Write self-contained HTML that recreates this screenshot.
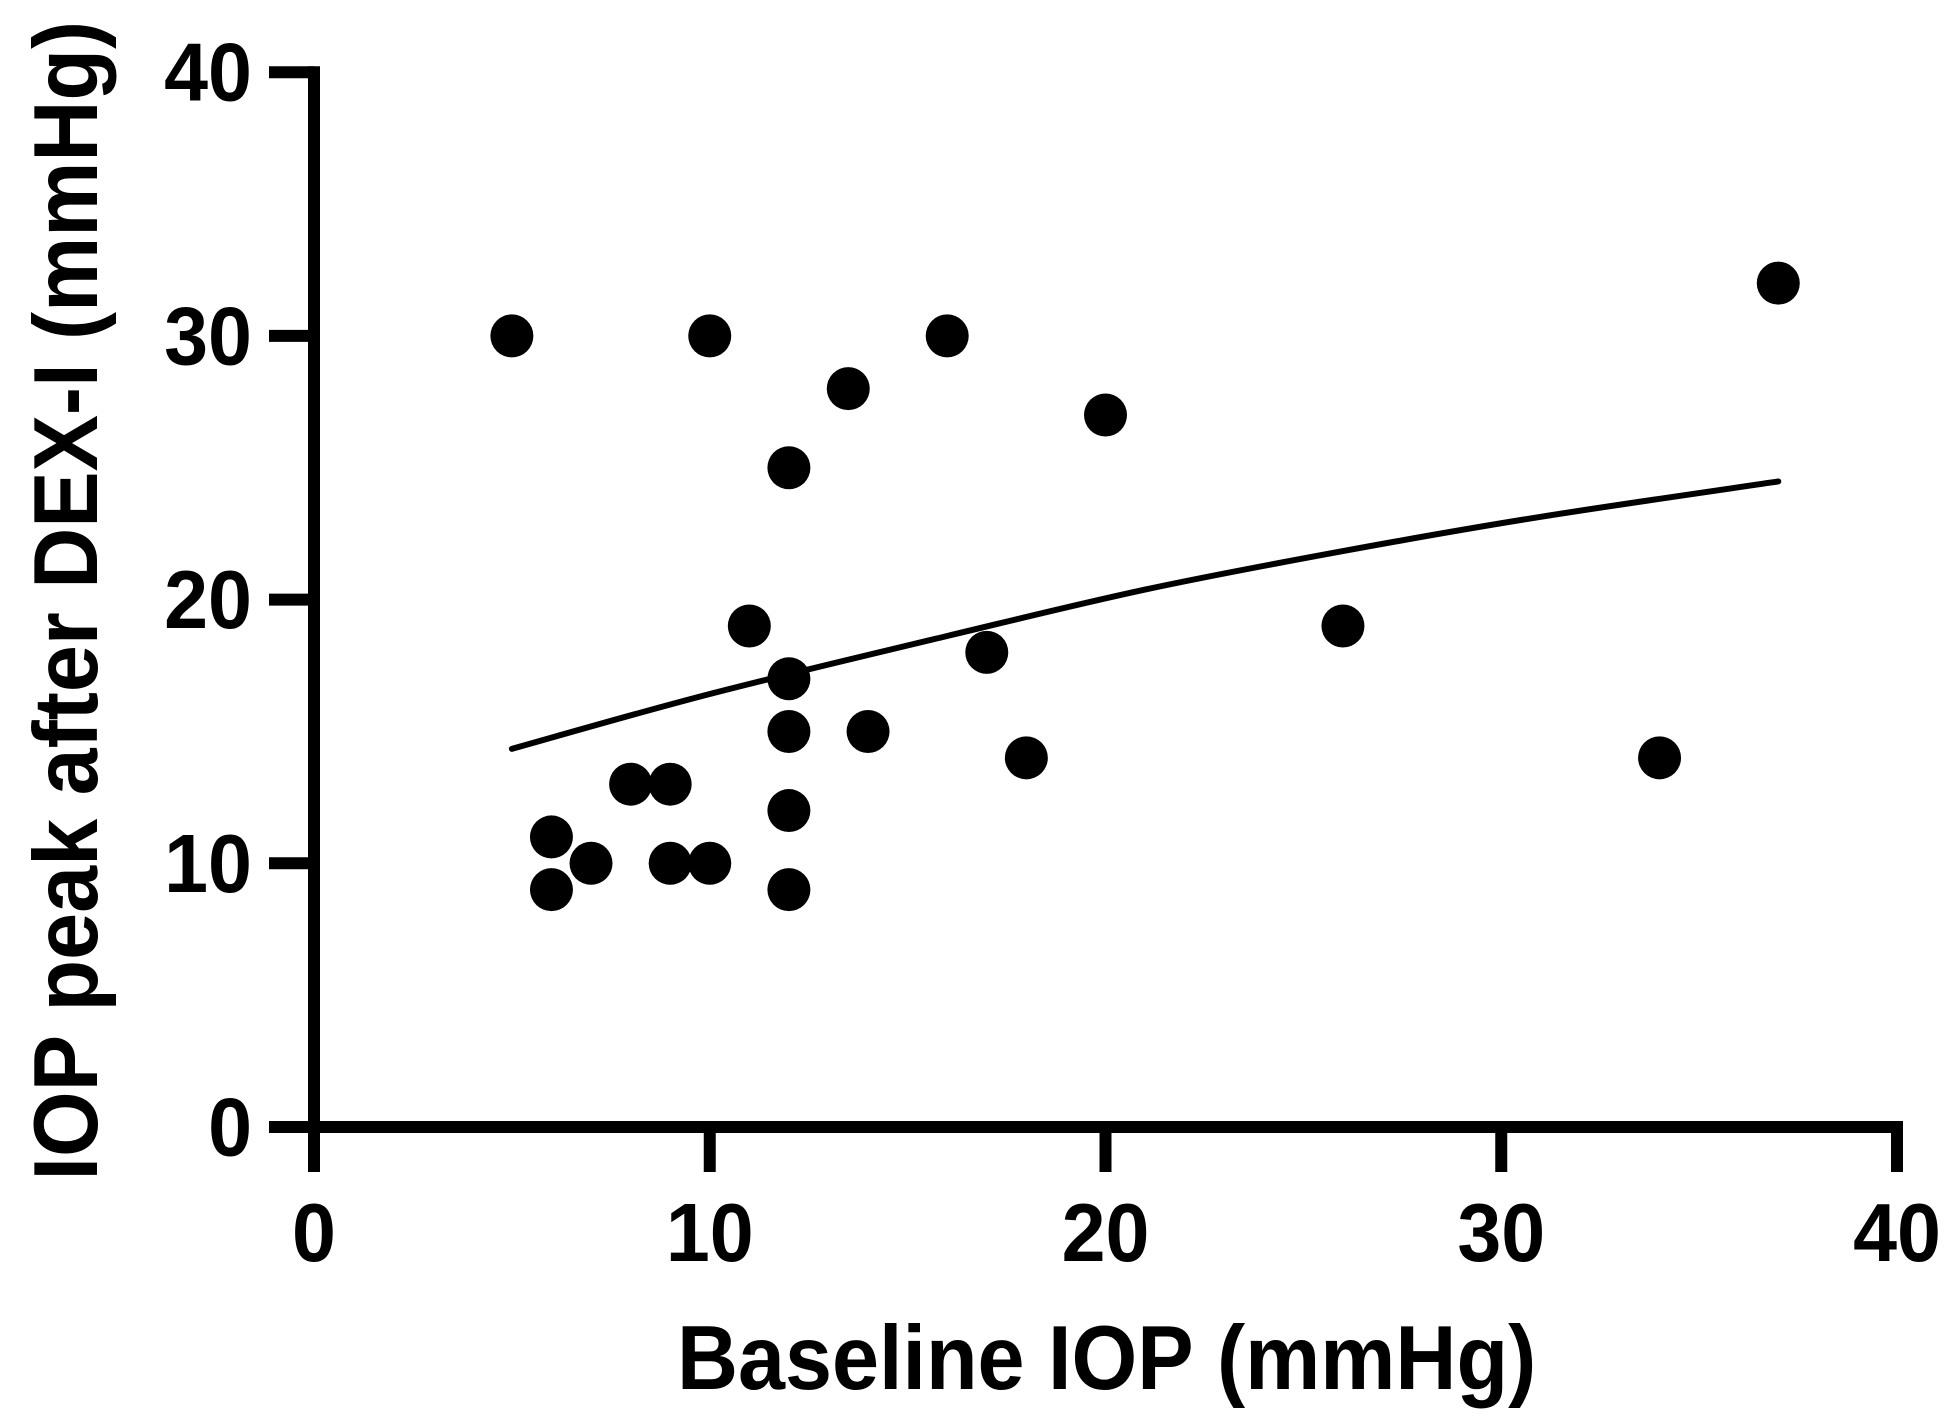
<!DOCTYPE html>
<html lang="en">
<head>
<meta charset="utf-8">
<title>IOP peak after DEX-I versus baseline IOP</title>
<style>
  html, body { margin: 0; padding: 0; background: #fff; width: 1954px; height: 1422px; overflow: hidden; }
  svg { display: block; }
  text { font-family: "Liberation Sans", Arial, sans-serif; font-weight: 700; fill: #000; font-kerning: none; }
</style>
</head>
<body>
<svg id="chart" xmlns="http://www.w3.org/2000/svg" width="1954" height="1422" viewBox="0 0 1954 1422">
  <rect x="0" y="0" width="1954" height="1422" fill="#fff"/>
  <g id="axes"></g>
  <g id="fit"></g>
  <g id="points"></g>
  <text transform="translate(677 1389) scale(1 1.08)" font-size="84.5">Baseline IOP (mmHg)</text>
  <text transform="translate(97 1180.5) rotate(-90) scale(1 1.08)" font-size="84.5">IOP peak after DEX-I (mmHg)</text>
</svg>
<script>
const xTicks = [0, 10, 20, 30, 40];
const yTicks = [0, 10, 20, 30, 40];
const baselineIop = [5, 10, 16, 13.5, 20, 12, 37, 11, 26, 17, 12, 12, 14, 18, 34, 8, 9, 12, 6, 7, 9, 10, 6, 12];
const peakIop = [30, 30, 30, 28, 27, 25, 32, 19, 19, 18, 17, 15, 15, 14, 14, 13, 13, 12, 11, 10, 10, 10, 9, 9];
const fitX = [5, 10, 16, 21, 26, 31, 37];
const fitY = [14.34, 16.42, 18.62, 20.38, 21.84, 23.14, 24.48];

const NS = 'http://www.w3.org/2000/svg';
const xOrigin = 314, xUnit = 39.575;
const yOrigin = 1127, yUnit = 26.37;
const xScale = function (v) { return xOrigin + v * xUnit; };
const yScale = function (v) { return yOrigin - v * yUnit; };

function make(tag, attrs, parent) {
  const el = document.createElementNS(NS, tag);
  Object.keys(attrs).forEach(function (k) { el.setAttribute(k, attrs[k]); });
  parent.appendChild(el);
  return el;
}

const axes = document.getElementById('axes');
const yMax = yTicks[yTicks.length - 1];
const xMax = xTicks[xTicks.length - 1];

const yLine = make('line', { x1: xScale(0), x2: xScale(0), y1: yScale(yMax) - 6, y2: yOrigin + 45, stroke: '#000', 'stroke-width': 12 }, axes);



const xLine = make('line', { x1: 269, x2: xScale(xMax) + 6, y1: yScale(0), y2: yScale(0), stroke: '#000', 'stroke-width': 12 }, axes);



yTicks.forEach(function (t) {
  const tick = make('line', { x1: 269, x2: xScale(0), y1: yScale(t), y2: yScale(t), stroke: '#000', 'stroke-width': 12 }, axes);
  
  
  const label = make('text', { transform: 'translate(252 ' + (yScale(t) + 28.5) + ') scale(1 1.05)', 'text-anchor': 'end', 'font-size': 79 }, axes);
  label.textContent = String(t);
  
  
});

xTicks.forEach(function (t) {
  const tick = make('line', { x1: xScale(t), x2: xScale(t), y1: yScale(0), y2: 1172, stroke: '#000', 'stroke-width': 12 }, axes);
  
  
  const label = make('text', { transform: 'translate(' + xScale(t) + ' 1261) scale(1 1.05)', 'text-anchor': 'middle', 'font-size': 79 }, axes);
  label.textContent = String(t);
  
  
});

// Smooth curve through the read points (Catmull-Rom to Bezier).
const fitGroup = document.getElementById('fit');
const fitPx = fitX.map(function (x, i) { return [xScale(x), yScale(fitY[i])]; });
let fitD = 'M' + fitPx[0][0] + ' ' + fitPx[0][1];
for (let i = 0; i < fitPx.length - 1; i++) {
  const p0 = fitPx[Math.max(i - 1, 0)];
  const p1 = fitPx[i];
  const p2 = fitPx[i + 1];
  const p3 = fitPx[Math.min(i + 2, fitPx.length - 1)];
  fitD += ' C' + (p1[0] + (p2[0] - p0[0]) / 6) + ' ' + (p1[1] + (p2[1] - p0[1]) / 6) +
          ' ' + (p2[0] - (p3[0] - p1[0]) / 6) + ' ' + (p2[1] - (p3[1] - p1[1]) / 6) +
          ' ' + p2[0] + ' ' + p2[1];
}
const fitLine = make('path', {
  d: fitD, fill: 'none',
  stroke: '#000', 'stroke-width': 6, 'stroke-linecap': 'round', 'stroke-linejoin': 'round'
}, fitGroup);



const pointsGroup = document.getElementById('points');
baselineIop.forEach(function (x, i) {
  const dot = make('circle', { cx: xScale(x), cy: yScale(peakIop[i]), r: 21.5, fill: '#000' }, pointsGroup);
  
  
});
</script>
</body>
</html>
